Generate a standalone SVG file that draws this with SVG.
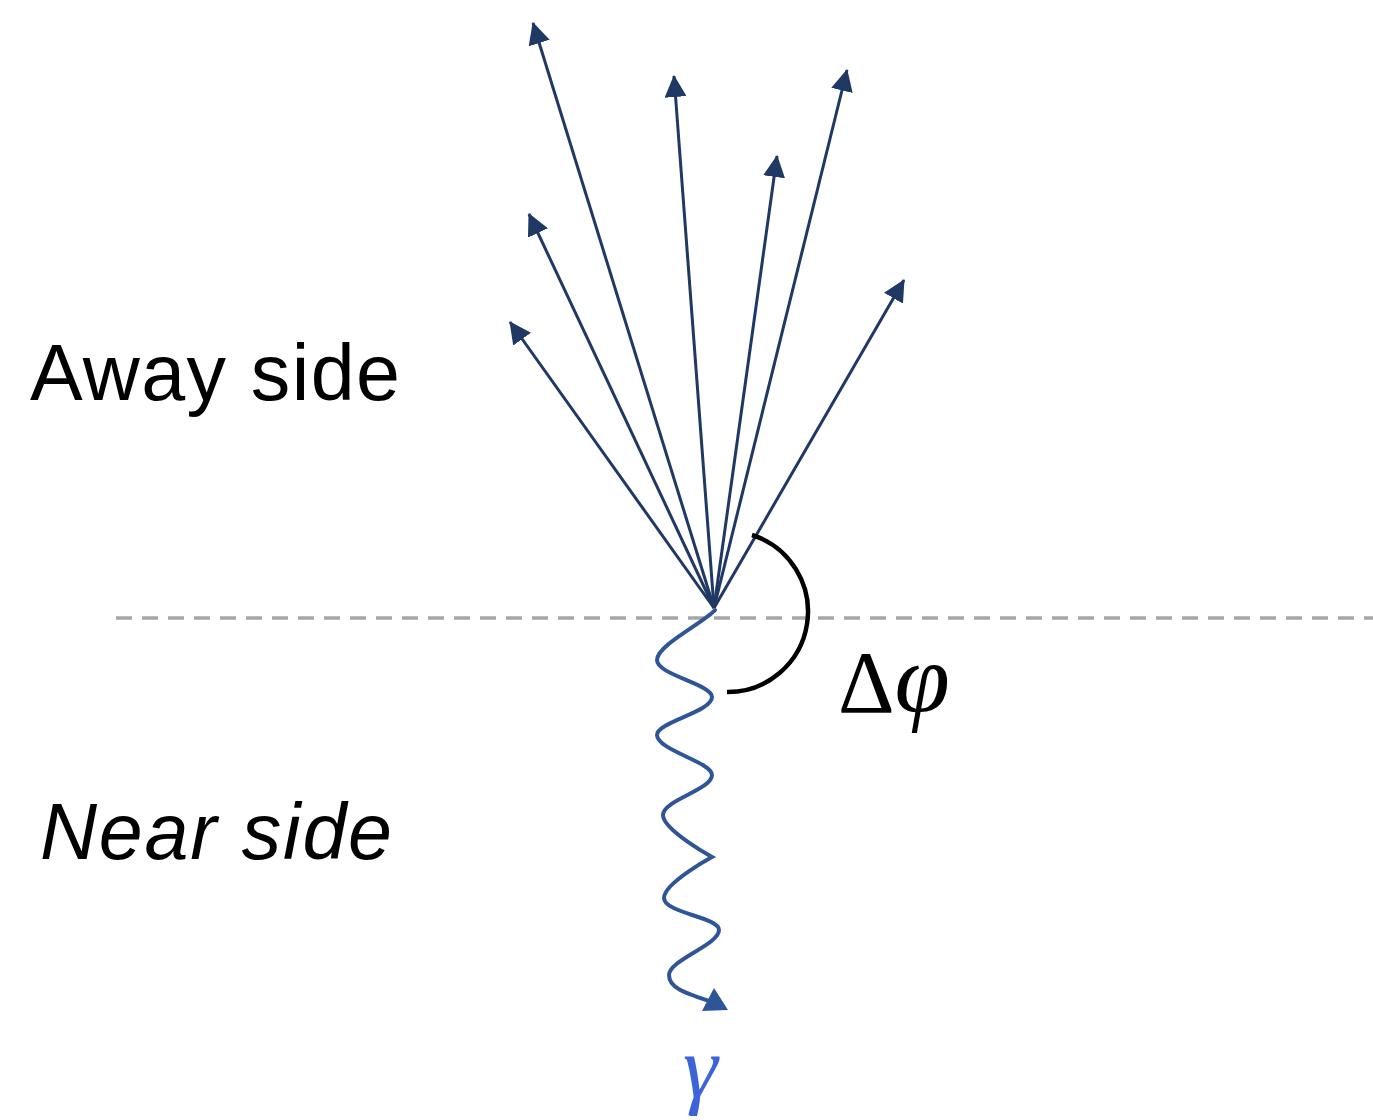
<svg xmlns="http://www.w3.org/2000/svg" width="1373" height="1120" viewBox="0 0 1373 1120">
<style>
.ray{stroke:#203864;stroke-width:3;fill:none;marker-end:url(#ah)}
.lbl{font-family:"Liberation Sans",Arial,sans-serif;font-size:79px;fill:#000}
.math{font-family:"Liberation Serif","Times New Roman",serif;font-size:88px}
</style>
<defs>
<marker id="ah" viewBox="0 0 22 22" refX="21" refY="11" markerWidth="22" markerHeight="22" markerUnits="userSpaceOnUse" orient="auto">
<path d="M0,0 L22,11 L0,22 z" fill="#203864"/>
</marker>
</defs>
<rect width="1373" height="1120" fill="#fff"/>
<g id="axis">
<line x1="116" y1="618" x2="1373" y2="618" stroke="#A6A6A6" stroke-width="3.5" stroke-dasharray="16 10"/>
</g>
<g id="connectors">
<line class="ray" x1="714" y1="608" x2="533" y2="23"/>
<line class="ray" x1="714" y1="608" x2="674" y2="76"/>
<line class="ray" x1="714" y1="608" x2="777" y2="156"/>
<line class="ray" x1="714" y1="608" x2="847" y2="70"/>
<line class="ray" x1="714" y1="608" x2="529" y2="214"/>
<line class="ray" x1="714" y1="608" x2="510" y2="322"/>
<line class="ray" x1="714" y1="608" x2="904" y2="280"/>
</g>
<g id="photon">
<path d="M715,610 C705,622 657,645 657,660 C657,675 712,684 712,697 C712,712 657,722 657,735 C657,750 712,762 712,775 C712,790 663,800 663,815 C663,830 712,857 712,857 C712,857 664,883 664,898 C664,913 719,917 719,930 C719,945 669,960 669,975 C669,988 685,993 709,1001" fill="none" stroke="#2F5597" stroke-width="4" stroke-linecap="round"/>
<polygon points="728,1010 702,1011 714,988" fill="#2F5597"/>
</g>
<g id="angle">
<path d="M752,535 A80.4,80.4 0 0 1 727,692" fill="none" stroke="#000" stroke-width="4.5"/>
<text class="math" x="838" y="712" fill="#000">Δ<tspan font-style="italic" font-size="100">φ</tspan></text>
</g>
<g id="away-label">
<text class="lbl" x="30" y="400" textLength="370" lengthAdjust="spacing">Away side</text>
</g>
<g id="near-label">
<text class="lbl" x="40" y="859" font-style="italic" textLength="352" lengthAdjust="spacing">Near side</text>
</g>
<g id="gamma-label">
<text class="math" x="683" y="1097" font-style="italic" font-size="102" fill="#3C64D8">γ</text>
</g>
</svg>
